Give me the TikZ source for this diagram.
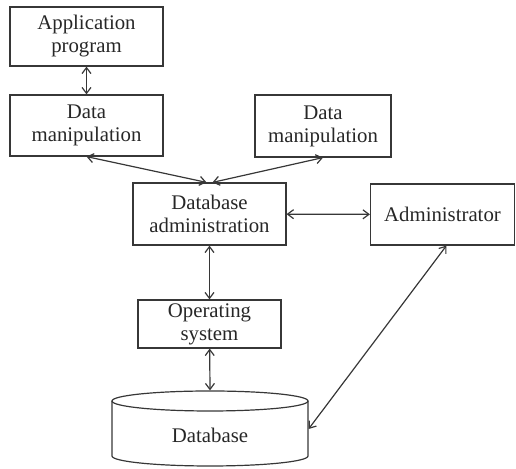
\documentclass[tikz,border=0pt]{standalone}
\usepackage{fontspec}
\setmainfont{Liberation Serif}
\usetikzlibrary{arrows.meta}

\definecolor{inkgray}{RGB}{55,55,55}
\newcommand{\thedrum}{
    \draw (112,401) -- (112,456) arc[start angle=180, end angle=0, x radius=98, y radius=10] -- (308,401);
    \draw (210,401) ellipse[x radius=98, y radius=10];
}
\tikzset{x=0.5pt, y=-0.5pt, >={Straight Barb[length=3pt,width=4.5pt]},
    every node/.append style={font=\fontsize{10.4}{11.5}\selectfont, text=inkgray!70!black},
    box/.style={draw, align=center, inner sep=0pt},
    link/.style={<->, inkgray, line width=0.6pt}}

\begin{document}
\begin{tikzpicture}[draw=inkgray, line width=0.6pt]
                \useasboundingbox (0,0) rectangle (516,469);
                \node[box, minimum width=76.5pt, minimum height=29.5pt] (app) at (86.5,36.5) {Application\\program};
                \node[box, minimum width=76.5pt, minimum height=30.5pt] (dml) at (86.5,125.5) {Data\\manipulation};
                \node[box, minimum width=68pt, minimum height=31pt] (dmr) at (323,126) {Data\\manipulation};
                \node[box, minimum width=76.5pt, minimum height=31pt] (dba) at (209.5,214) {Database\\administration};
                \node[box, minimum width=72pt, minimum height=30.5pt] (adm) at (442.5,214.5) {Administrator};
                \node[box, minimum width=71.5pt, minimum height=24pt] (os) at (209.5,324) {Operating\\system};
                \thedrum
                \node[minimum width=98pt, minimum height=38pt, inner sep=0pt] (db) at (210,429) {};
                \node at (210,435) {Database};
                \draw[link] (app) -- (dml);
                \draw[link] (dml.south) -- ([xshift=-1.5pt]dba.north);
                \draw[link] (dmr.south) -- ([xshift=1.5pt]dba.north);
                \draw[link] (dba) -- (adm);
                \draw[link] (dba) -- (os);
                \draw[link] (os) -- (db.north);
                \draw[link] ([xshift=2pt]adm.south) -- (db.east);
            \end{tikzpicture}
\end{document}
